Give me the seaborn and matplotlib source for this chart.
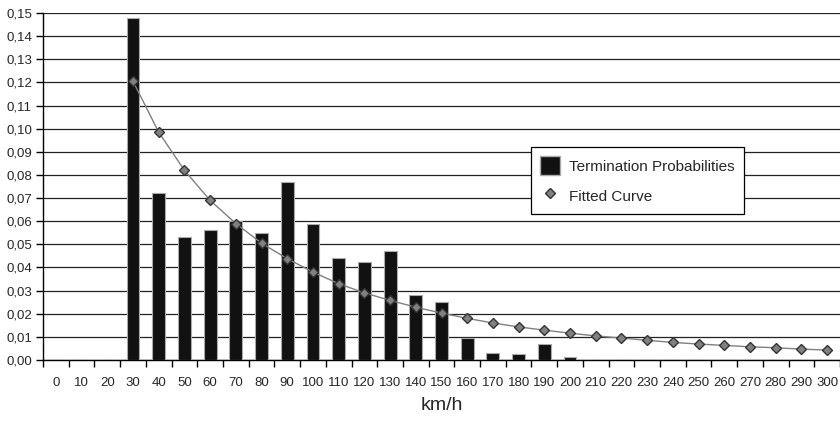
import matplotlib
matplotlib.use("Agg")
import matplotlib.pyplot as plt
import seaborn as sns
import pandas as pd
import numpy as np
from matplotlib.lines import Line2D
from matplotlib.patches import Patch
from matplotlib.ticker import FuncFormatter, MultipleLocator

speeds = [str(v) for v in range(0, 310, 10)]
termination = [0, 0, 0, 0.148, 0.072, 0.053, 0.056, 0.060, 0.055, 0.077, 0.059,
               0.044, 0.0425, 0.047, 0.028, 0.025, 0.0095, 0.003, 0.0025, 0.007,
               0.0015, 0, 0, 0, 0, 0, 0, 0, 0, 0, 0]
fit_speeds = [str(v) for v in range(30, 310, 10)]
fitted = [0.1205, 0.0985, 0.082, 0.069, 0.059, 0.0505, 0.0438, 0.038, 0.033,
          0.029, 0.0258, 0.0228, 0.0203, 0.018, 0.016, 0.0143, 0.0129, 0.0116,
          0.0104, 0.0095, 0.0085, 0.0076, 0.0069, 0.0063, 0.0057, 0.0053,
          0.0047, 0.0043]

bars_df = pd.DataFrame({"speed": speeds, "p": termination})
fit_df = pd.DataFrame({"speed": fit_speeds, "p": fitted})

sns.set_style("white")
plt.rcParams["font.family"] = ["Liberation Sans", "DejaVu Sans"]

fig = plt.figure(figsize=(8.4, 4.22), dpi=100)
ax = fig.add_axes([43 / 840, 1 - 360 / 422, 1 - 43 / 840, (360 - 13) / 422])

sns.barplot(data=bars_df, x="speed", y="p", order=speeds, color="#111111",
            width=0.5, edgecolor="#aaaaaa", linewidth=0.8, saturation=1,
            ax=ax, zorder=3)
sns.pointplot(data=fit_df, x="speed", y="p", order=speeds, color="#808080",
              markers="D", markersize=5, linewidth=1.0,
              markeredgecolor="#333333", markeredgewidth=1.0, ax=ax,
              zorder=4)

ax.set_ylim(0, 0.15)
ax.set_xlim(-0.5, len(speeds) - 0.5)
ax.yaxis.set_major_locator(MultipleLocator(0.01))
ax.yaxis.set_major_formatter(FuncFormatter(lambda v, p: f"{v:.2f}".replace(".", ",")))
ax.grid(axis="y", color="#222222", linewidth=0.9, zorder=0)
ax.set_axisbelow(True)

for s in ["top", "right"]:
    ax.spines[s].set_visible(False)
ax.spines["left"].set_color("black")
ax.spines["bottom"].set_color("black")
ax.spines["left"].set_linewidth(1.0)
ax.spines["bottom"].set_linewidth(1.0)

ax.set_xticks(np.arange(len(speeds)))
ax.set_xticklabels(speeds)
ax.set_xticks(np.arange(len(speeds) + 1) - 0.5, minor=True)
ax.tick_params(axis="x", which="major", length=0, pad=12, labelsize=9.5)
ax.tick_params(axis="x", which="minor", length=5, width=1, color="black", bottom=True)
ax.tick_params(axis="y", length=5, width=1, color="black", left=True, labelsize=9.5, pad=3)

ax.set_xlabel("km/h", fontsize=14, labelpad=6)
ax.set_ylabel("")

handles = [Patch(facecolor="#111111", edgecolor="#aaaaaa"),
           Line2D([], [], marker="D", linestyle="None", color="#808080",
                  markeredgecolor="#333333", markersize=5)]
leg = ax.legend(handles, ["Termination Probabilities", "Fitted Curve"],
                loc="upper left", bbox_to_anchor=((531 - 43) / 797, 1 - (147 - 13) / 347),
                borderaxespad=0,
                frameon=True, fancybox=False, framealpha=1, edgecolor="black",
                fontsize=11, handlelength=1.3, handleheight=1.5,
                borderpad=0.6, labelspacing=0.75, handletextpad=0.6)
leg.get_frame().set_linewidth(0.9)

fig.savefig("out.png", dpi=100)
